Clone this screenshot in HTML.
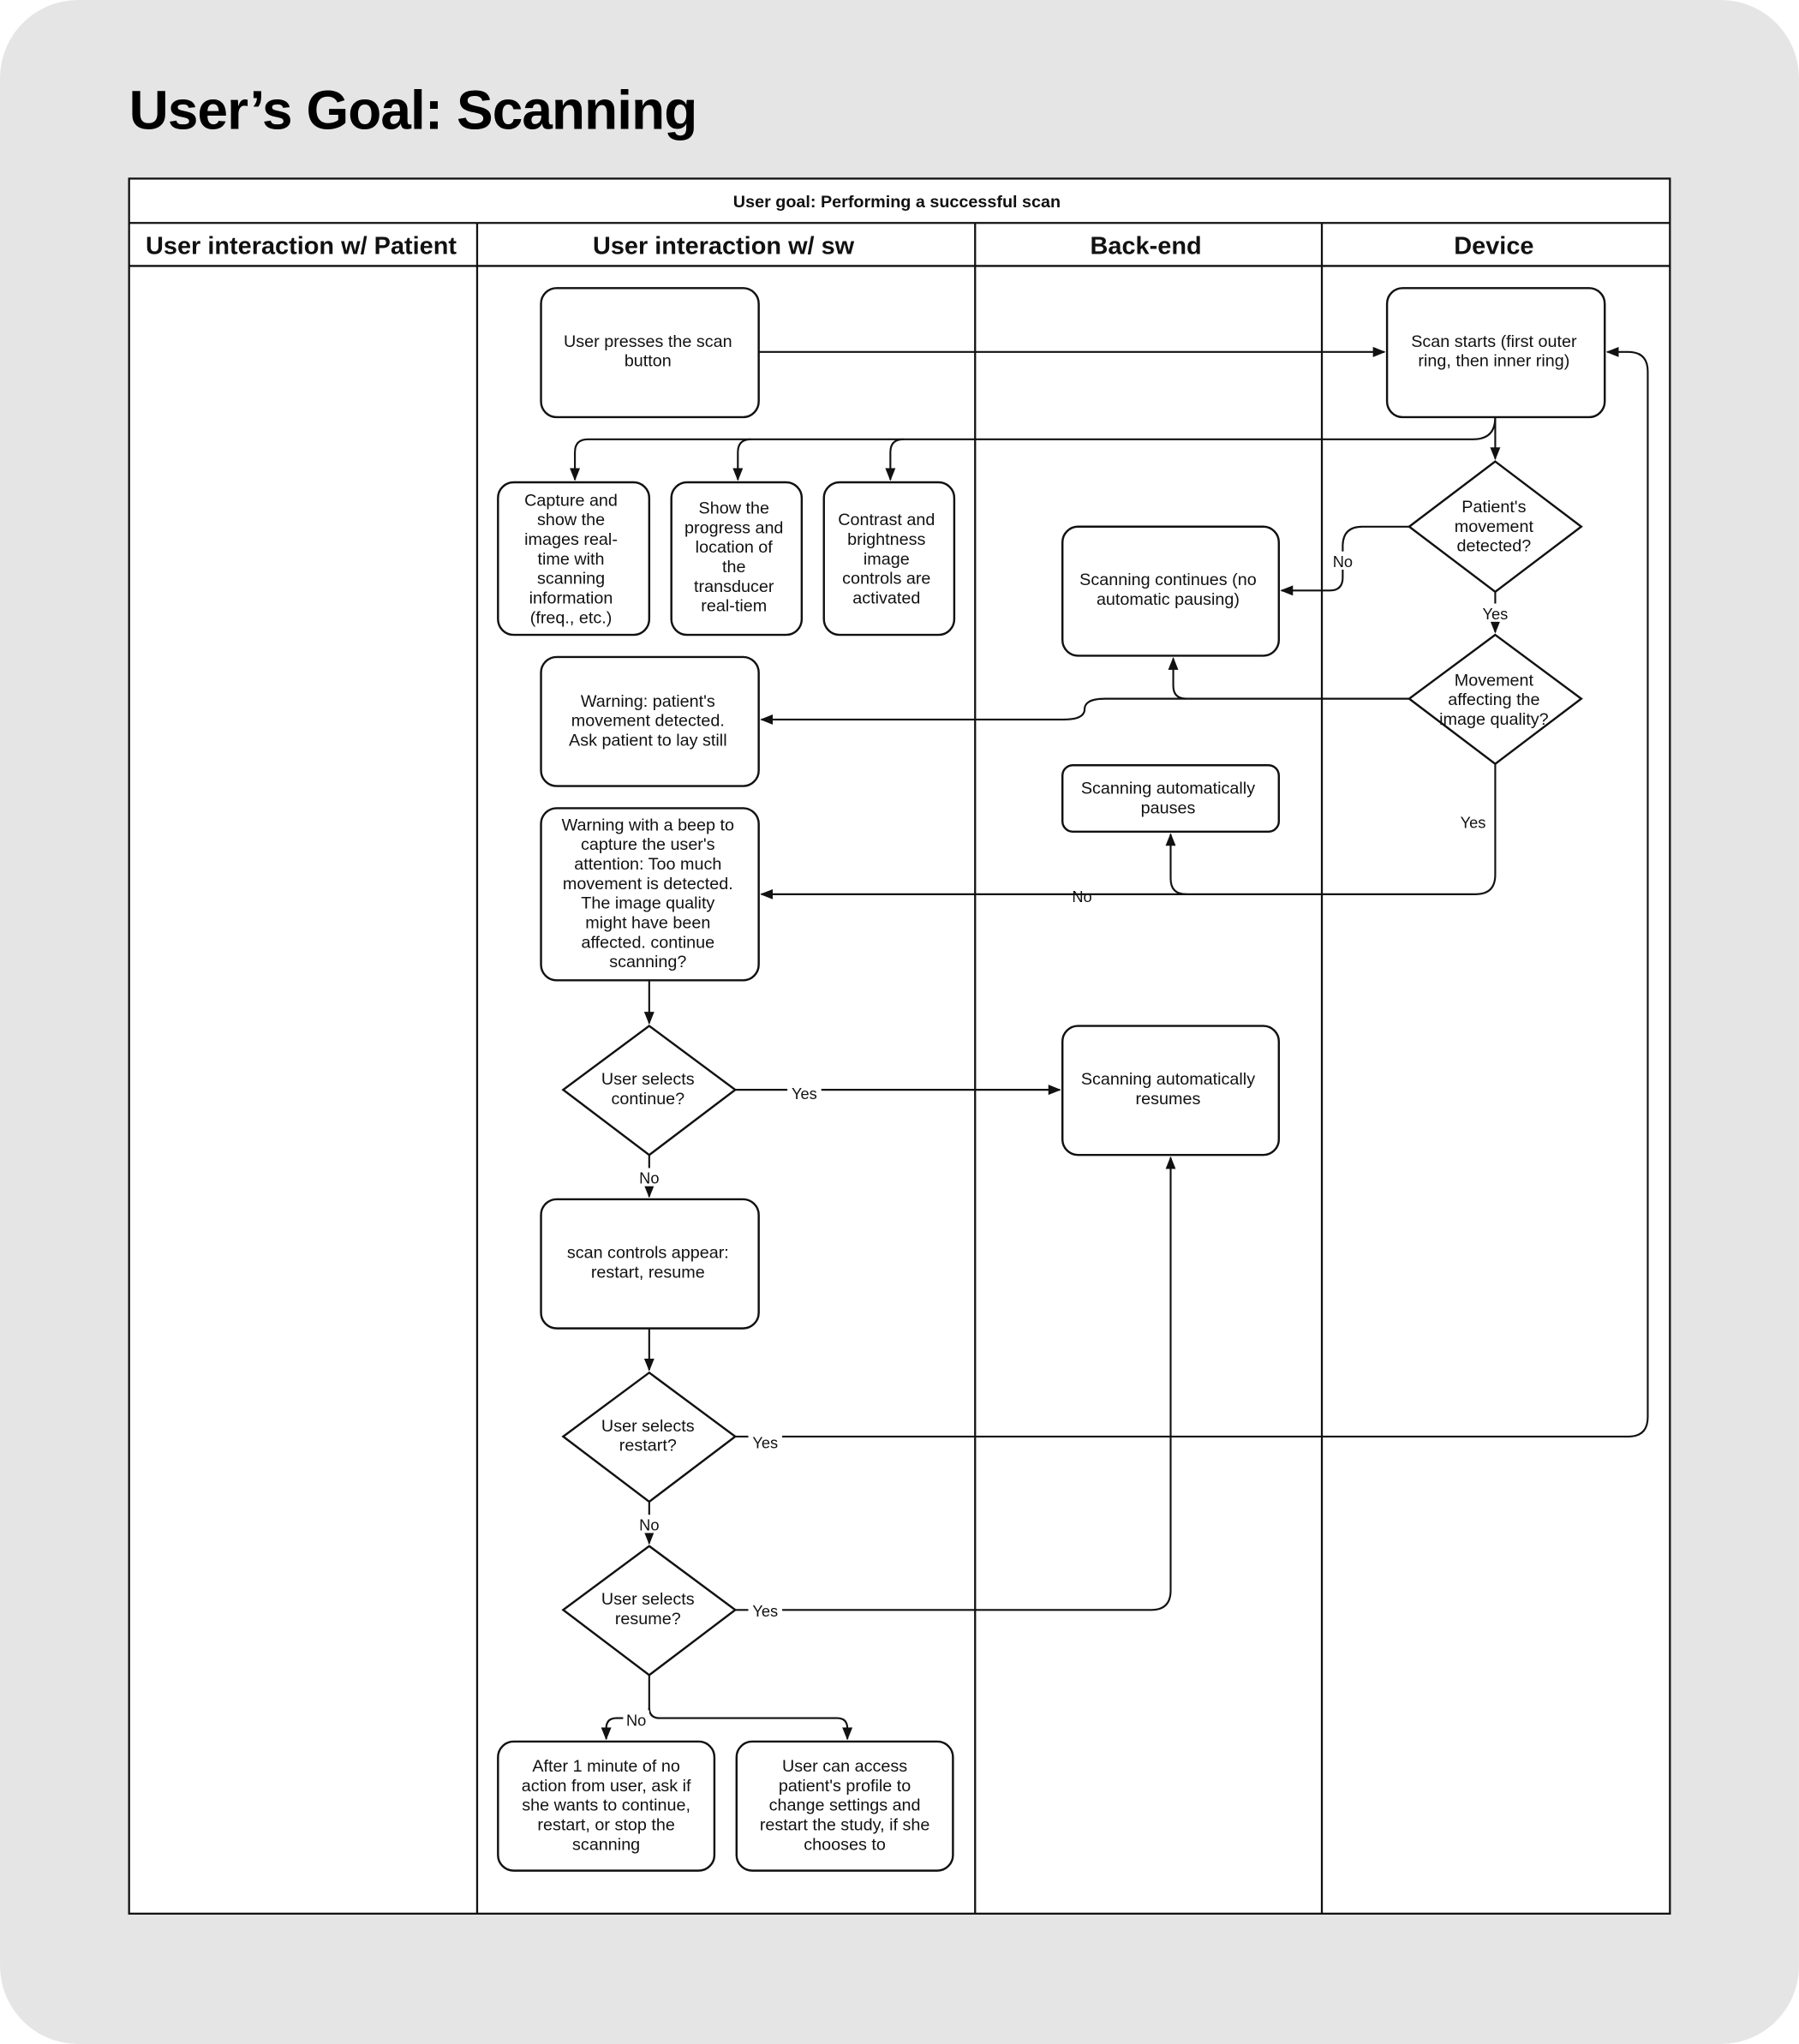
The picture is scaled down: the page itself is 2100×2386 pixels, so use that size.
<!DOCTYPE html>
<html><head><meta charset="utf-8"><style>
html,body{margin:0;padding:0;background:#fff;}
svg{display:block}
text{font-family:"Liberation Sans",sans-serif;}
.n{font-size:13px;fill:#111;text-anchor:middle}
.l{font-size:12px;fill:#111;text-anchor:middle}
.h{font-size:19px;font-weight:bold;fill:#111;text-anchor:middle}
.b{fill:#fff;stroke:#111;stroke-width:1.6}
.e{fill:none;stroke:#111;stroke-width:1.4}
</style></head><body>
<svg width="2100" height="2386" viewBox="0 0 1380 1568" xmlns="http://www.w3.org/2000/svg">
<defs><marker id="a" viewBox="0 0 10 10" refX="9" refY="5" markerWidth="7" markerHeight="7" orient="auto"><path d="M0,1 L10,5 L0,9 z" fill="#111"/></marker></defs>
<rect x="0" y="0" width="1380" height="1568" rx="60" fill="#e5e5e5"/>
<text x="99" y="99" style="font-size:42px;font-weight:bold;fill:#000;letter-spacing:-0.6px">User’s Goal: Scanning</text>
<rect x="99" y="137" width="1182" height="1331" fill="#fff" stroke="#111" stroke-width="1.5"/>
<line x1="99" y1="171" x2="1281" y2="171" stroke="#111" stroke-width="1.5"/>
<line x1="99" y1="204" x2="1281" y2="204" stroke="#111" stroke-width="1.5"/>
<line x1="366" y1="171" x2="366" y2="1468" stroke="#111" stroke-width="1.5"/>
<line x1="748" y1="171" x2="748" y2="1468" stroke="#111" stroke-width="1.5"/>
<line x1="1014" y1="171" x2="1014" y2="1468" stroke="#111" stroke-width="1.5"/>
<text x="688" y="159" class="n" style="font-weight:bold">User goal: Performing a successful scan</text>
<text x="231" y="195" class="h">User interaction w/ Patient</text>
<text x="555" y="195" class="h">User interaction w/ sw</text>
<text x="879" y="195" class="h">Back-end</text>
<text x="1146" y="195" class="h">Device</text>

<g class="e">
<path d="M582,270 H1062" marker-end="url(#a)"/>
<path d="M1147,320 V352" marker-end="url(#a)"/>
<path d="M1147,320 Q1147,337 1130,337 H451 Q441,337 441,347 V368" marker-end="url(#a)"/>
<path d="M576,337 Q566,337 566,347 V368" marker-end="url(#a)"/>
<path d="M693,337 Q683,337 683,347 V368" marker-end="url(#a)"/>
<path d="M1081,404 H1045 Q1030,404 1030,419 V443 Q1030,453 1020,453 H983" marker-end="url(#a)"/>
<path d="M1147,454 V485" marker-end="url(#a)"/>
<path d="M1081,536 H910 Q900,536 900,526 V505" marker-end="url(#a)"/>
<path d="M910,536 H848 Q832,536 832,544 Q832,552 816,552 H584" marker-end="url(#a)"/>
<path d="M1147,586 V671 Q1147,686 1132,686 H584" marker-end="url(#a)"/>
<path d="M910,686 Q898,686 898,674 V640" marker-end="url(#a)"/>
<path d="M498,752 V785" marker-end="url(#a)"/>
<path d="M564,836 H813" marker-end="url(#a)"/>
<path d="M498,886 V918" marker-end="url(#a)"/>
<path d="M498,1019 V1051" marker-end="url(#a)"/>
<path d="M564,1102 H1249 Q1264,1102 1264,1087 V285 Q1264,270 1249,270 H1233" marker-end="url(#a)"/>
<path d="M498,1152 V1184" marker-end="url(#a)"/>
<path d="M564,1235 H883 Q898,1235 898,1220 V888" marker-end="url(#a)"/>
<path d="M498,1285 V1310 Q498,1318 506,1318 H642 Q650,1318 650,1326 V1334" marker-end="url(#a)"/>
<path d="M498,1310 Q498,1318 490,1318 H473 Q465,1318 465,1326 V1334" marker-end="url(#a)"/>
</g>
<g class="l">
<rect x="1020" y="423" width="20" height="14" fill="#fff"/><text x="1030" y="435">No</text>
<rect x="1134" y="463" width="26" height="14" fill="#fff"/><text x="1147" y="475">Yes</text>
<rect x="1117" y="623" width="26" height="14" fill="#fff"/><text x="1130" y="635">Yes</text>
<text x="830" y="692">No</text>
<rect x="604" y="831" width="26" height="14" fill="#fff"/><text x="617" y="843">Yes</text>
<rect x="488" y="896" width="20" height="14" fill="#fff"/><text x="498" y="908">No</text>
<rect x="574" y="1099" width="26" height="14" fill="#fff"/><text x="587" y="1111">Yes</text>
<rect x="488" y="1162" width="20" height="14" fill="#fff"/><text x="498" y="1174">No</text>
<rect x="574" y="1228" width="26" height="14" fill="#fff"/><text x="587" y="1240">Yes</text>
<rect x="478" y="1312" width="20" height="14" fill="#fff"/><text x="488" y="1324">No</text>
</g>

<g class="b">
<rect x="415" y="221" width="167" height="99" rx="12"/>
<rect x="1064" y="221" width="167" height="99" rx="12"/>
<rect x="382" y="370" width="116" height="117" rx="12"/>
<rect x="515" y="370" width="100" height="117" rx="12"/>
<rect x="632" y="370" width="100" height="117" rx="12"/>
<path d="M1147,354 L1213,404 L1147,454 L1081,404 Z"/>
<rect x="815" y="404" width="166" height="99" rx="12"/>
<path d="M1147,487 L1213,536 L1147,586 L1081,536 Z"/>
<rect x="415" y="504" width="167" height="99" rx="12"/>
<rect x="815" y="587" width="166" height="51" rx="8"/>
<rect x="415" y="620" width="167" height="132" rx="12"/>
<path d="M498,787 L564,836 L498,886 L432,836 Z"/>
<rect x="815" y="787" width="166" height="99" rx="12"/>
<rect x="415" y="920" width="167" height="99" rx="12"/>
<path d="M498,1053 L564,1102 L498,1152 L432,1102 Z"/>
<path d="M498,1186 L564,1235 L498,1285 L432,1235 Z"/>
<rect x="382" y="1336" width="166" height="99" rx="12"/>
<rect x="565" y="1336" width="166" height="99" rx="12"/>
</g>
<g class="n">
<text x="497" y="266">User presses the scan</text><text x="497" y="281">button</text>
<text x="1146" y="266">Scan starts (first outer</text><text x="1146" y="281">ring, then inner ring)</text>
<text x="438" y="388">Capture and</text><text x="438" y="403">show the</text><text x="438" y="418">images real-</text><text x="438" y="433">time with</text><text x="438" y="448">scanning</text><text x="438" y="463">information</text><text x="438" y="478">(freq., etc.)</text>
<text x="563" y="394">Show the</text><text x="563" y="409">progress and</text><text x="563" y="424">location of</text><text x="563" y="439">the</text><text x="563" y="454">transducer</text><text x="563" y="469">real-tiem</text>
<text x="680" y="403">Contrast and</text><text x="680" y="418">brightness</text><text x="680" y="433">image</text><text x="680" y="448">controls are</text><text x="680" y="463">activated</text>
<text x="1146" y="393">Patient's</text><text x="1146" y="408">movement</text><text x="1146" y="423">detected?</text>
<text x="896" y="449">Scanning continues (no</text><text x="896" y="464">automatic pausing)</text>
<text x="1146" y="526">Movement</text><text x="1146" y="541">affecting the</text><text x="1146" y="556">image quality?</text>
<text x="497" y="542">Warning: patient's</text><text x="497" y="557">movement detected.</text><text x="497" y="572">Ask patient to lay still</text>
<text x="896" y="609">Scanning automatically</text><text x="896" y="624">pauses</text>
<text x="497" y="637">Warning with a beep to</text><text x="497" y="652">capture the user's</text><text x="497" y="667">attention: Too much</text><text x="497" y="682">movement is detected.</text><text x="497" y="697">The image quality</text><text x="497" y="712">might have been</text><text x="497" y="727">affected. continue</text><text x="497" y="742">scanning?</text>
<text x="497" y="832">User selects</text><text x="497" y="847">continue?</text>
<text x="896" y="832">Scanning automatically</text><text x="896" y="847">resumes</text>
<text x="497" y="965">scan controls appear:</text><text x="497" y="980">restart, resume</text>
<text x="497" y="1098">User selects</text><text x="497" y="1113">restart?</text>
<text x="497" y="1231">User selects</text><text x="497" y="1246">resume?</text>
<text x="465" y="1359">After 1 minute of no</text><text x="465" y="1374">action from user, ask if</text><text x="465" y="1389">she wants to continue,</text><text x="465" y="1404">restart, or stop the</text><text x="465" y="1419">scanning</text>
<text x="648" y="1359">User can access</text><text x="648" y="1374">patient's profile to</text><text x="648" y="1389">change settings and</text><text x="648" y="1404">restart the study, if she</text><text x="648" y="1419">chooses to</text>
</g>
</svg>
</body></html>
